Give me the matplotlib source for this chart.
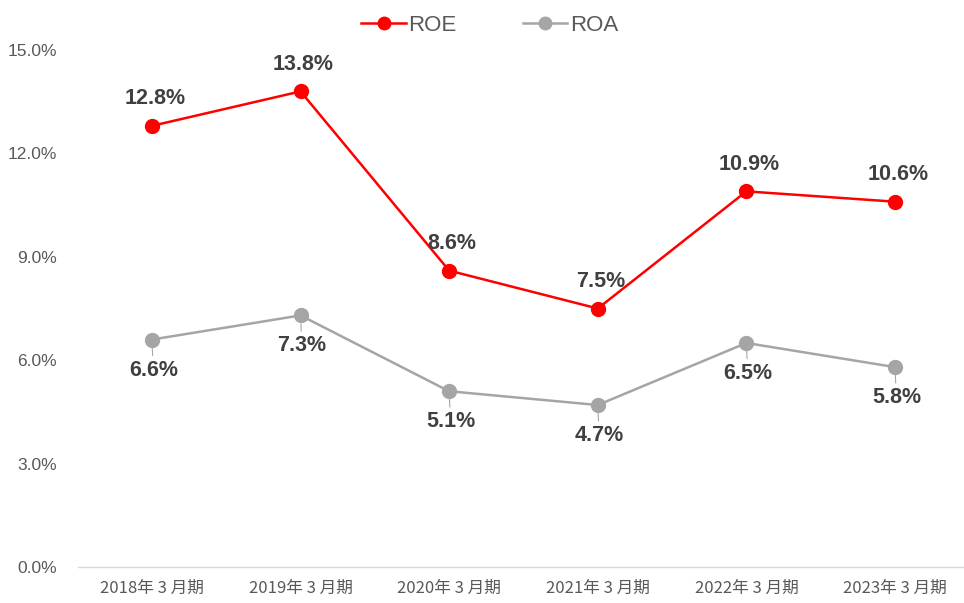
import matplotlib.pyplot as plt
from matplotlib.ticker import FuncFormatter

plt.rcParams['font.family'] = ['Liberation Sans', 'Noto Sans CJK JP', 'DejaVu Sans']

# Data
periods = ["2018年 3 月期", "2019年 3 月期", "2020年 3 月期",
           "2021年 3 月期", "2022年 3 月期", "2023年 3 月期"]
roe = [12.8, 13.8, 8.6, 7.5, 10.9, 10.6]
roa = [6.6, 7.3, 5.1, 4.7, 6.5, 5.8]
y_ticks = [0, 3, 6, 9, 12, 15]

RED = "#FF0000"
GRAY = "#A5A5A5"
TXT = "#595959"
LBL = "#404040"

fig = plt.figure(figsize=(9.64, 6.03), dpi=100)
ax = fig.add_axes([0.0805, 0.0597, 0.925, 0.8573])

x = list(range(len(periods)))
ax.plot(x, roe, color=RED, lw=1.8, marker="o", ms=10, label="ROE", zorder=3)
ax.plot(x, roa, color=GRAY, lw=1.8, marker="o", ms=10, label="ROA", zorder=3)

# data labels
for i, v in enumerate(roe):
    ax.annotate(f"{v:.1f}%", (i, v), xytext=(2, 19.5), textcoords="offset points",
                ha="center", va="center", fontsize=15.5, fontweight="bold", color=LBL)
for i, v in enumerate(roa):
    ax.annotate(f"{v:.1f}%", (i, v), xytext=(1, -22), textcoords="offset points",
                ha="center", va="center", fontsize=15.5, fontweight="bold", color=LBL,
                arrowprops=dict(arrowstyle="-", color="#A6A6A6", lw=0.8,
                                shrinkA=1, shrinkB=6))

ax.set_xlim(-0.5, len(periods) - 0.5)
ax.set_ylim(0, 15)
ax.set_yticks(y_ticks)
ax.yaxis.set_major_formatter(FuncFormatter(lambda v, p: f"{v:.1f}%"))
ax.set_xticks(x)
ax.set_xticklabels(periods, family=['Noto Sans CJK JP', 'DejaVu Sans'])
ax.tick_params(axis="both", length=0, labelsize=12, labelcolor=TXT)
ax.tick_params(axis="y", labelsize=12.5, pad=15)
ax.tick_params(axis="x", pad=9)

for s in ["top", "right", "left"]:
    ax.spines[s].set_visible(False)
ax.spines["bottom"].set_color("#D9D9D9")
ax.spines["bottom"].set_linewidth(1)

fig.legend(loc="upper center", bbox_to_anchor=(0.508, 1.008), ncol=2, frameon=False,
           fontsize=16, labelcolor=TXT, columnspacing=3.0, handlelength=2.0,
           handletextpad=0.1, markerscale=0.9)

fig.savefig("out.png", dpi=100)
